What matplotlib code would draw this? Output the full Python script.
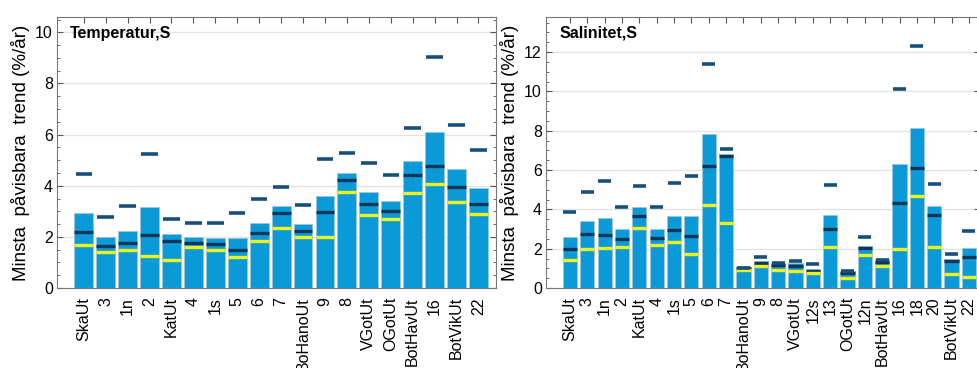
import numpy as np
import matplotlib
matplotlib.use("Agg")
import matplotlib.pyplot as plt
from matplotlib.ticker import MultipleLocator

plt.rcParams.update({
    "font.family": ["Liberation Sans", "DejaVu Sans"],
    "font.size": 11.5,
})

# Temperatur, S
temp_stations = ["SkaUt", "3", "1n", "2", "KatUt", "4", "1s", "5", "6", "7",
                 "BoHanoUt", "9", "8", "VGotUt", "OGotUt", "BotHavUt", "16",
                 "BotVikUt", "22"]
temp_bar = [2.92, 1.99, 2.22, 3.18, 2.10, 1.98, 1.96, 1.96, 2.54, 3.21,
            2.50, 3.60, 4.50, 3.75, 3.40, 4.97, 6.11, 4.67, 3.91]
temp_mid = [2.18, 1.66, 1.75, 2.07, 1.85, 1.77, 1.71, 1.49, 2.14, 2.92,
            2.23, 2.98, 4.21, 3.29, 3.01, 4.43, 4.77, 3.94, 3.29]
temp_low = [1.68, 1.41, 1.47, 1.25, 1.10, 1.60, 1.47, 1.20, 1.83, 2.33,
            2.01, 1.98, 3.77, 2.84, 2.69, 3.70, 4.05, 3.38, 2.89]
temp_high = [4.46, 2.76, 3.22, 5.25, 2.71, 2.54, 2.56, 2.92, 3.49, 3.95,
             3.25, 5.06, 5.28, 4.89, 4.42, 6.25, 9.05, 6.39, 5.38]

# Salinitet, S
sal_stations = ["SkaUt", "3", "1n", "2", "KatUt", "4", "1s", "5", "6", "7",
                "BoHanoUt", "9", "8", "VGotUt", "12s", "13", "OGotUt", "12n",
                "BotHavUt", "16", "18", "20", "BotVikUt", "22"]
sal_bar = [2.59, 3.40, 3.57, 2.98, 4.10, 2.98, 3.64, 3.64, 7.82, 6.80,
           1.02, 1.39, 1.25, 1.28, 0.96, 3.69, 0.88, 2.13,
           1.47, 6.30, 8.13, 4.15, 1.46, 2.02]
sal_mid = [1.98, 2.74, 2.69, 2.49, 3.67, 2.52, 2.93, 2.63, 6.18, 6.72,
           1.00, 1.29, 1.17, 1.11, 0.88, 3.01, 0.75, 2.01,
           1.32, 4.33, 6.09, 3.71, 1.37, 1.59]
sal_low = [1.44, 2.00, 2.05, 2.10, 3.06, 2.18, 2.34, 1.74, 4.23, 3.30,
           0.90, 1.12, 0.90, 0.85, 0.75, 2.08, 0.52, 1.66,
           1.10, 1.96, 4.67, 2.10, 0.70, 0.57]
sal_high = [3.88, 4.88, 5.45, 4.13, 5.21, 4.13, 5.33, 5.72, 11.38, 7.09,
            1.03, 1.56, 1.27, 1.35, 1.22, 5.25, 0.85, 2.59,
            1.42, 10.12, 12.31, 5.28, 1.73, 2.91]

BAR_COLOR = "#0a9ad8"
MID_COLOR = "#0e3658"
HIGH_COLOR = "#174f7c"
LOW_COLOR = "#eef21c"
YLABEL = "Minsta  påvisbara  trend (%/år)"


def draw_panel(ax, stations, bar, mid, low, high, title, xlim, ylim,
               width, dash_w):
    x = np.arange(len(stations))
    ax.bar(x, bar, width=width, color=BAR_COLOR, edgecolor="#9cc6de",
           linewidth=0.6, zorder=2)
    half = dash_w / 2
    ax.hlines(mid, x - width / 2, x + width / 2, color=MID_COLOR, lw=2.4, zorder=3)
    ax.hlines(low, x - width / 2, x + width / 2, color=LOW_COLOR, lw=2.4, zorder=3)
    ax.hlines(high, x - half, x + half, color=HIGH_COLOR, lw=2.6, zorder=3)

    ax.set_xlim(*xlim)
    ax.set_ylim(*ylim)
    ax.set_xticks(x)
    ax.set_xticklabels(stations, rotation=90)
    ax.yaxis.set_major_locator(MultipleLocator(2))
    ax.yaxis.set_minor_locator(MultipleLocator(0.5))
    ax.tick_params(which="both", direction="in", top=True, right=True,
                   color="#555555", labelcolor="black")
    ax.tick_params(which="major", length=4)
    ax.tick_params(which="minor", length=2)
    ax.tick_params(axis="y", pad=3)
    ax.tick_params(axis="x", pad=6.5)
    ax.grid(axis="y", which="major", color="#e2e2e2", linewidth=0.9, zorder=0)
    ax.set_axisbelow(True)
    for s in ax.spines.values():
        s.set_color("#777777")
        s.set_linewidth(0.8)
    ax.set_ylabel(YLABEL, fontsize=13.5, labelpad=4)
    ax.text(0.03, 0.94, title, transform=ax.transAxes, fontsize=11.5,
            fontweight="bold", ha="left", va="center")


fig = plt.figure(figsize=(9.78, 3.68), dpi=100)
ax1 = fig.add_axes([57 / 978, 80 / 368, 439 / 978, 271 / 368])
ax2 = fig.add_axes([546 / 978, 80 / 368, 434 / 978, 271 / 368])

draw_panel(ax1, temp_stations, temp_bar, temp_mid, temp_low, temp_high,
           "Temperatur,S", (-1.22, 18.8), (0, 10.6), 0.86, 0.75)
draw_panel(ax2, sal_stations, sal_bar, sal_mid, sal_low, sal_high,
           "Salinitet,S", (-1.38, 23.64), (0, 13.78), 0.82, 0.75)

fig.savefig("out.png", dpi=100)
